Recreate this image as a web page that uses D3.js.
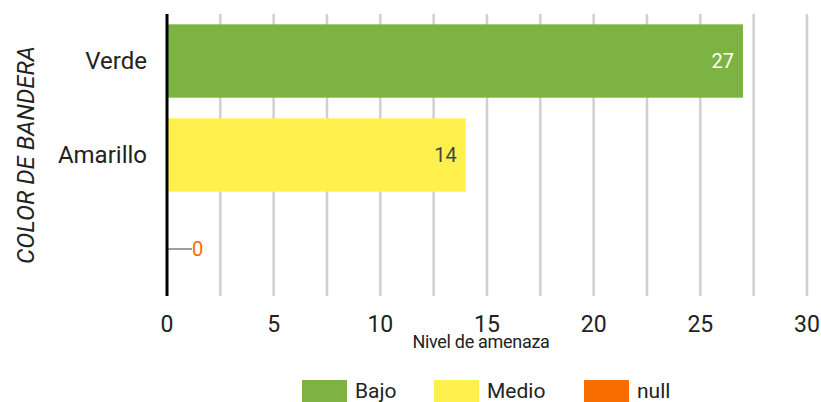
<!DOCTYPE html>
<html>
<head>
<meta charset="utf-8">
<script src="https://cdn.jsdelivr.net/npm/d3@7"></script>
<style>
  body { margin: 0; background: #fff; }
  svg { display: block; font-family: Roboto, sans-serif; }
</style>
</head>
<body>
<div id="chart"></div>
<script>
const width = 821
const height = 402

// data
const categories = ['Verde', 'Amarillo', '']
const values = [27, 14, 0]
const levels = ['Bajo', 'Medio', 'null']
const levelColors = ['#7cb342', '#fff04d', '#f76d00']
const xTicks = [0, 5, 10, 15, 20, 25, 30]
const gridTicks = [2.5, 5, 7.5, 10, 12.5, 15, 17.5, 20, 22.5, 25, 27.5, 30]

const margin = {top: 14, right: 14, bottom: 106, left: 167}

let svg = d3.select('#chart')
    .append('svg')
    .attr('width', width)
    .attr('height', height)

let x = d3.scaleLinear()
    .domain([0, 30])
    .range([margin.left, width - margin.right])

let y = d3.scaleBand()
    .domain(categories)
    .range([margin.top, height - margin.bottom])
    .paddingInner(0.22)
    .paddingOuter(0.11)

// gridlines
svg.append('g')
    .selectAll('line')
    .data(gridTicks)
    .join('line')
    .attr('x1', d => x(d))
    .attr('x2', d => x(d))
    .attr('y1', margin.top)
    .attr('y2', height - margin.bottom)
    .attr('stroke', '#d0d0d0')
    .attr('stroke-width', 2.5)

// bars
svg.append('g')
    .selectAll('rect')
    .data(values)
    .join('rect')
    .attr('x', x(0))
    .attr('y', (d, i) => y(categories[i]))
    .attr('width', d => x(d) - x(0))
    .attr('height', y.bandwidth())
    .attr('fill', (d, i) => levelColors[i])

// value labels
svg.append('g')
    .selectAll('text')
    .data(values)
    .join('text')
    .attr('x', d => d > 0 ? x(d) - 9 : x(0) + 25)
    .attr('y', (d, i) => y(categories[i]) + y.bandwidth() / 2)
    .attr('dy', '0.35em')
    .attr('text-anchor', d => d > 0 ? 'end' : 'start')
    .attr('font-size', 20)
    .attr('fill', (d, i) => i == 0 ? '#fff' : i == 1 ? '#444' : levelColors[2])
    .text(d => d)

// leader line for the zero bar
svg.append('line')
    .attr('x1', x(0))
    .attr('x2', x(0) + 25)
    .attr('y1', y(categories[2]) + y.bandwidth() / 2)
    .attr('y2', y(categories[2]) + y.bandwidth() / 2)
    .attr('stroke', '#9e9e9e')
    .attr('stroke-width', 2)

// y axis line
svg.append('line')
    .attr('x1', x(0))
    .attr('x2', x(0))
    .attr('y1', margin.top)
    .attr('y2', height - margin.bottom)
    .attr('stroke', '#000')
    .attr('stroke-width', 3)

// category labels
svg.append('g')
    .selectAll('text')
    .data(categories)
    .join('text')
    .attr('x', 147)
    .attr('y', d => y(d) + y.bandwidth() / 2)
    .attr('dy', '0.35em')
    .attr('text-anchor', 'end')
    .attr('font-size', 24)
    .attr('fill', '#222')
    .text(d => d)

// x tick labels
svg.append('g')
    .selectAll('text')
    .data(xTicks)
    .join('text')
    .attr('x', d => x(d))
    .attr('y', 332)
    .attr('text-anchor', 'middle')
    .attr('font-size', 23)
    .attr('fill', '#222')
    .text(d => d)

// axis titles
svg.append('text')
    .attr('x', 481)
    .attr('y', 348)
    .attr('text-anchor', 'middle')
    .attr('font-size', 18)
    .attr('letter-spacing', -0.3)
    .attr('fill', '#222')
    .text('Nivel de amenaza')

svg.append('text')
    .attr('transform', 'translate(34,155) rotate(-90)')
    .attr('text-anchor', 'middle')
    .attr('font-size', 24)
    .attr('font-style', 'italic')
    .attr('fill', '#222')
    .text('COLOR DE BANDERA')

// legend
const legendX = [302, 434, 584]
let legend = svg.append('g')
    .selectAll('g')
    .data(levels)
    .join('g')
    .attr('transform', (d, i) => `translate(${legendX[i]},380)`)

legend.append('rect')
    .attr('width', 45)
    .attr('height', 22)
    .attr('fill', (d, i) => levelColors[i])

legend.append('text')
    .attr('x', 53)
    .attr('y', 18)
    .attr('font-size', 21)
    .attr('fill', '#222')
    .text(d => d)
</script>
</body>
</html>
